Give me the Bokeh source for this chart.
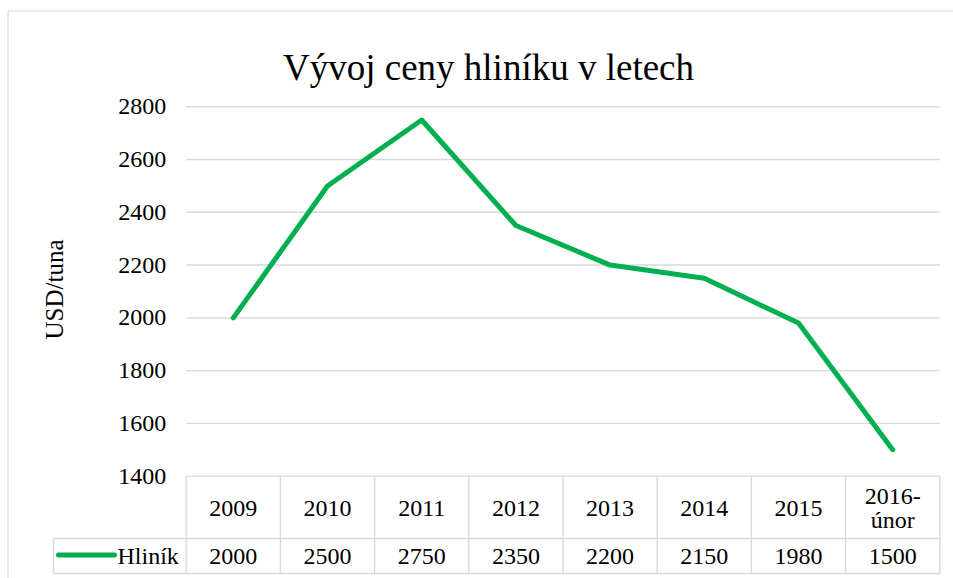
from bokeh.plotting import figure
from bokeh.models import Range1d, FixedTicker, LinearAxis
from bokeh.core.properties import value
from bokeh.embed import file_html
from bokeh.resources import INLINE

# ---------------- data ----------------
title_text = "Vývoj ceny hliníku v letech"
y_axis_label = "USD/tuna"
series_name = "Hliník"
categories = ["2009", "2010", "2011", "2012", "2013", "2014", "2015", "2016-únor"]
prices = [2000, 2500, 2750, 2350, 2200, 2150, 1980, 1500]
y_ticks = [1400, 1600, 1800, 2000, 2200, 2400, 2600, 2800]

# ---------------- layout (page pixels) ----------------
W, H = 953, 578
OX, OY = 0, 0
COL0, COLN = 185.7, 939.3          # plot area / table columns
Y_TOP_PX, Y_BOT_PX = 106.3, 475.6  # top and bottom tick positions
ROW1_PX, ROW2_PX = 538.0, 573.0    # table row separators
LEG_LEFT_PX = 53.0
FONT = "Liberation Serif"
GRID = "#d9d9d9"
GREEN = "#00B050"

n = len(categories)
pxu = (COLN - COL0) / n
ymin, ymax = min(y_ticks), max(y_ticks)
pyu = (Y_BOT_PX - Y_TOP_PX) / (ymax - ymin)

x_start = (OX - COL0) / pxu
x_end = (OX + W - COL0) / pxu
y_end = ymax + (Y_TOP_PX - OY) / pyu
y_start = ymin - (OY + H - Y_BOT_PX) / pyu
leg_left = (LEG_LEFT_PX - COL0) / pxu

p = figure(width=W, height=H, output_backend="svg", toolbar_location=None,
           x_range=Range1d(x_start, x_end), y_range=Range1d(y_start, y_end),
           min_border=0, x_axis_type=None, y_axis_type=None)
p.outline_line_color = None
p.background_fill_color = "white"
p.border_fill_color = "white"
p.extra_x_ranges = {"px": Range1d(OX, OX + W)}
p.extra_y_ranges = {"px": Range1d(OY + H, OY)}

# value axis (drawn at left edge of plot area)
yax = LinearAxis(fixed_location=0, ticker=FixedTicker(ticks=y_ticks))
yax.axis_line_color = None
yax.major_tick_line_color = None
yax.minor_tick_line_color = None
yax.major_tick_out = 0
yax.major_tick_in = 0
yax.major_label_standoff = 20
yax.major_label_text_font = FONT
yax.major_label_text_font_size = "24px"
yax.major_label_text_color = "#000000"
yax.axis_label = y_axis_label
yax.axis_label_text_font = FONT
yax.axis_label_text_font_size = "25px"
yax.axis_label_text_font_style = "normal"
yax.axis_label_text_color = "#000000"
yax.axis_label_standoff = 48
p.add_layout(yax, "left")

# chart-area border (left / top)
p.segment(x0=[7.5, 7.5], y0=[10.5, 10.5], x1=[7.5, OX + W], y1=[OY + H, 10.5],
          x_range_name="px", y_range_name="px", line_color=GRID, line_width=1.2)

# horizontal gridlines
p.segment(x0=[0] * len(y_ticks), x1=[n] * len(y_ticks), y0=y_ticks, y1=y_ticks,
          line_color=GRID, line_width=1.4)

# data table grid
xs_cols = list(range(n + 1))
p.segment(x0=xs_cols, x1=xs_cols, y0=[Y_BOT_PX] * len(xs_cols), y1=[ROW2_PX] * len(xs_cols),
          y_range_name="px", line_color=GRID, line_width=1.4)
p.segment(x0=[leg_left, leg_left, leg_left], x1=[n, n, leg_left],
          y0=[ROW1_PX, ROW2_PX, ROW1_PX], y1=[ROW1_PX, ROW2_PX, ROW2_PX],
          y_range_name="px", line_color=GRID, line_width=1.4)

# series line
xc = [i + 0.5 for i in range(n)]
p.line(x=xc, y=prices, line_color=GREEN, line_width=5,
       line_join="round", line_cap="round")

# table header (categories) and values
header = [c.replace("-", "-\n") for c in categories]
p.text(x=xc, y=[(Y_BOT_PX + ROW1_PX) / 2 + 1] * n, text=header, y_range_name="px",
       text_font=value(FONT), text_font_size="24px", text_color="#000000",
       text_align="center", text_baseline="middle", text_line_height=0.92)
p.text(x=xc, y=[(ROW1_PX + ROW2_PX) / 2 + 0.5] * n, text=[str(v) for v in prices],
       y_range_name="px", text_font=value(FONT), text_font_size="24px",
       text_color="#000000", text_align="center", text_baseline="middle")

# legend key inside table
p.segment(x0=[58], x1=[114], y0=[554.5], y1=[554.5], x_range_name="px", y_range_name="px",
          line_color=GREEN, line_width=5, line_cap="round")
p.text(x=[117], y=[555.5], text=[series_name], x_range_name="px", y_range_name="px",
       text_font=value(FONT), text_font_size="24px", text_color="#000000",
       text_align="left", text_baseline="middle")

# title
p.text(x=[488], y=[66.5], text=[title_text], x_range_name="px", y_range_name="px",
       text_font=value(FONT), text_font_size="37px", text_color="#000000",
       text_align="center", text_baseline="alphabetic")

open("out.html", "w").write(file_html(p, INLINE))
